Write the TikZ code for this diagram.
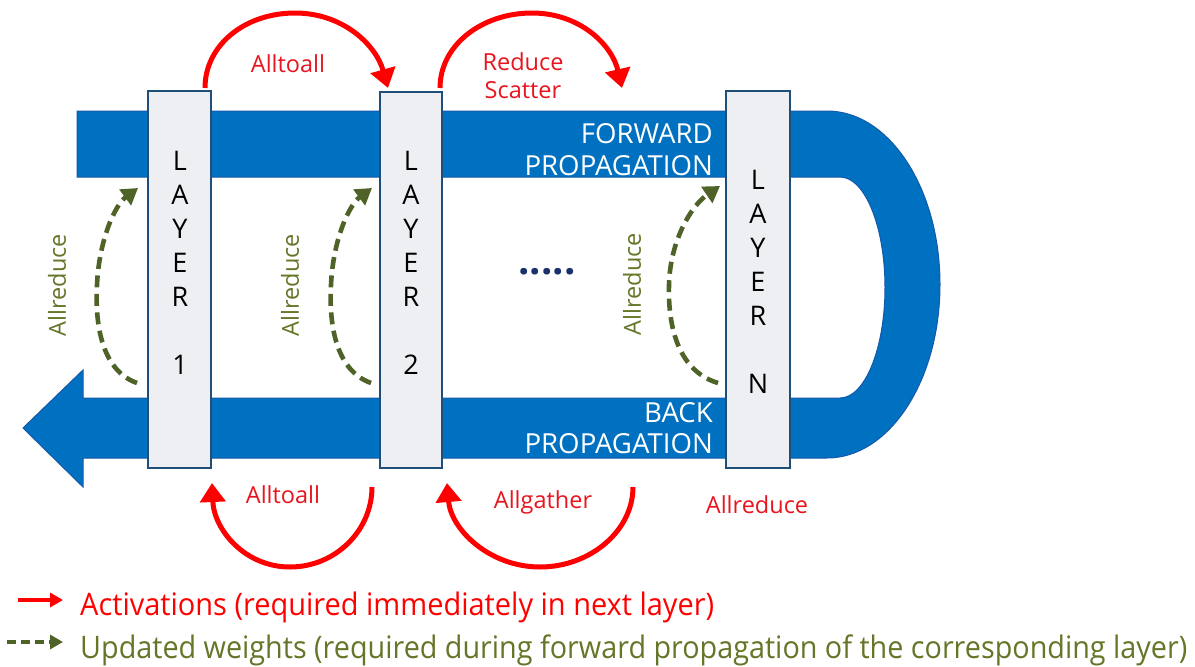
\documentclass[tikz,border=0pt]{standalone}
\usepackage{fontspec}
\setmainfont{Open Sans}
\usetikzlibrary{arrows.meta}
\definecolor{bandblue}{RGB}{0,112,192}
\definecolor{bandedge}{RGB}{20,90,170}
\definecolor{boxfill}{RGB}{237,239,243}
\definecolor{boxedge}{RGB}{31,78,121}
\definecolor{arrred}{RGB}{255,0,0}
\definecolor{txtred}{RGB}{232,20,30}
\definecolor{olivearr}{RGB}{79,98,40}
\definecolor{olivetxt}{RGB}{100,118,40}
\definecolor{navy}{RGB}{25,50,110}
\newsavebox\fitbox
\newcommand\fitw[2]{\sbox\fitbox{#2}\pgfmathsetmacro\fitfac{#1/\the\wd\fitbox}\scalebox{\fitfac}[1]{\usebox\fitbox}}
\begin{document}
\begin{tikzpicture}[x=1pt,y=-1pt,
  layerbox/.style={draw=boxedge,fill=boxfill,line width=2.5pt,inner sep=0pt},
  redarr/.style={draw=arrred,line width=5pt,-{Triangle[length=19pt,width=25pt]}},
  greenarr/.style={draw=olivearr,line width=4.6pt,dash pattern=on 12pt off 6.5pt,-{Triangle[length=16pt,width=19pt]}},
  redlbl/.style={text=txtred,font=\fontsize{23.5}{27}\selectfont,inner sep=0pt,anchor=base},
  grnlbl/.style={text=olivetxt,font=\fontsize{23.5}{27}\selectfont,inner sep=0pt,rotate=90},
  whitelbl/.style={text=white,font=\fontsize{27.6}{32}\selectfont,inner sep=0pt,anchor=base east},
  layertxt/.style={font=\fontsize{27}{34}\selectfont,align=center,inner sep=0pt,anchor=north},
  legtxt/.style={font=\fontsize{31}{31}\selectfont,inner sep=0pt,anchor=base west},
]
\useasboundingbox[fill=white] (0,0) rectangle (1195,667);

% blue band with U-turn and arrowhead
\filldraw[fill=bandblue, draw=bandedge, line width=1pt]
  (77,111) -- (827,111)
  arc[start angle=-90,end angle=90,x radius=113,y radius=173.5]
  -- (83,458) -- (83,487) -- (23,428) -- (83,370) -- (83,398) -- (840,398)
  arc[start angle=90,end angle=-90,x radius=45,y radius=110.5]
  -- (77,177) -- cycle;

% layer boxes
\node[layerbox, minimum width=63pt, minimum height=377pt] (L1) at (179.5,279.5) {};
\node[layerbox, minimum width=62pt, minimum height=376pt] (L2) at (411,280) {};
\node[layerbox, minimum width=64pt, minimum height=377pt] (LN) at (758,279.5) {};

\node[layertxt] (t1) at (180,151) {L\\A\\Y\\E\\R\\[34pt]1};
\node[layertxt] (t2) at (411,151) {L\\A\\Y\\E\\R\\[34pt]2};
\node[layertxt] (tN) at (758,170) {L\\A\\Y\\E\\R\\[34pt]N};

% white band labels
\node[whitelbl] (fw1) at (713,143) {FORWARD};
\node[whitelbl] (fw2) at (713,175) {PROPAGATION};
\node[whitelbl] (bk1) at (713,422) {BACK};
\node[whitelbl] (bk2) at (713,453) {PROPAGATION};

% dots
\node[text=navy, font=\bfseries\fontsize{40}{40}\selectfont, inner sep=0pt] (dots) at (547,272) {.....};

% red arcs (top)
\coordinate (r1s) at (205,88); \coordinate (r1e) at (388,88);
\coordinate (r2s) at (440,88); \coordinate (r2e) at (622,88);
\draw[redarr] (r1s) .. controls (205,45) and (245,13) .. (295,13) .. controls (343,13) and (376,45) .. (r1e);
\draw[redarr] (r2s) .. controls (440,45) and (482,13) .. (532,13) .. controls (580,13) and (612,45) .. (r2e);
\node[redlbl] (a2a) at (288,72) {Alltoall};
\node[redlbl] (rs1) at (523,70) {Reduce};
\node[redlbl] (rs2) at (523,98) {Scatter};

% red arcs (bottom)
\coordinate (b1s) at (372,487); \coordinate (b1e) at (212,483);
\coordinate (b2s) at (633,487); \coordinate (b2e) at (447,483);
\draw[redarr] (b1s) .. controls (372,531) and (335,567) .. (290,567) .. controls (245,567) and (214,530) .. (b1e);
\draw[redarr] (b2s) .. controls (633,531) and (590,567) .. (540,567) .. controls (490,567) and (451,530) .. (b2e);
\node[redlbl] (a2b) at (283,503) {Alltoall};
\node[redlbl] (agb) at (543,508) {Allgather};
\node[redlbl] (arb) at (757,513) {Allreduce};

% green dashed arcs
\coordinate (g1s) at (137,383); \coordinate (g1e) at (138,188);
\coordinate (g2s) at (371,383); \coordinate (g2e) at (372,188);
\coordinate (g3s) at (718,383); \coordinate (g3e) at (720,186);
\draw[greenarr] (g1s) .. controls (100,370) and (95,320) .. (97,285) .. controls (99,240) and (115,205) .. (g1e);
\draw[greenarr] (g2s) .. controls (334,370) and (329,320) .. (331,285) .. controls (333,240) and (349,205) .. (g2e);
\draw[greenarr] (g3s) .. controls (675,370) and (668,320) .. (669,285) .. controls (670,240) and (692,205) .. (g3e);
\node[grnlbl] (ar1) at (57,285) {Allreduce};
\node[grnlbl] (ar2) at (290,285) {Allreduce};
\node[grnlbl] (ar3) at (632,284) {Allreduce};

% legend
\coordinate (la1) at (18,600); \coordinate (lb1) at (63,600);
\coordinate (la2) at (7,642); \coordinate (lb2) at (63,642);
\draw[draw=arrred,line width=4pt,-{Triangle[length=13pt,width=14pt]}] (la1) -- (lb1);
\draw[draw=olivearr,line width=4pt,dash pattern=on 9pt off 5pt,-{Triangle[length=13pt,width=14pt]}] (la2) -- (lb2);
\node[legtxt, text=arrred] (leg1) at (80,615) {\fitw{634}{Activations (required immediately in next layer)}};
\node[legtxt, text=olivetxt] (leg2) at (80,658) {\fitw{1107}{Updated weights (required during forward propagation of the corresponding layer)}};
\end{tikzpicture}
\end{document}
